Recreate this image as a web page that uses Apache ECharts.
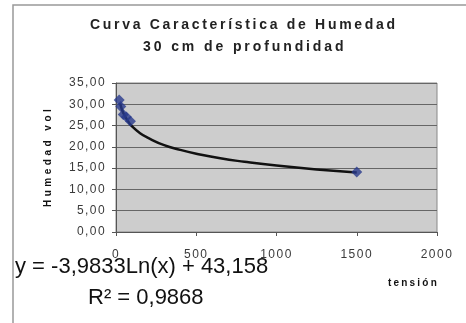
<!DOCTYPE html>
<html>
<head>
<meta charset="utf-8">
<script src="https://cdn.jsdelivr.net/npm/echarts@6/dist/echarts.min.js"></script>
<style>html,body{margin:0;padding:0;background:#fff}#c{width:466px;height:323px}</style>
</head>
<body>
<div id="c"></div>
<script>
// Measured points (tensión, humedad vol)
const tension = [20, 30, 45, 65, 90, 1500];
const humedad = [31.0, 29.5, 27.6, 27.0, 26.0, 14.1];
// Trend line
const trendX = [25, 35, 50, 75, 100, 150, 200, 300, 400, 500, 650, 800, 1000, 1250, 1500];
const trendY = [30.3, 29.0, 27.6, 26.0, 24.8, 23.2, 22.1, 20.4, 19.3, 18.4, 17.3, 16.5, 15.6, 14.7, 14.0];
const yTicks = [0, 5, 10, 15, 20, 25, 30, 35];
const xTicks = [0, 500, 1000, 1500, 2000];
const titleLine1 = 'Curva Característica de Humedad';
const titleLine2 = '30 cm de profundidad';
const yName = 'Humedad vol';
const xName = 'tensión';
const equation = 'y = -3,9833Ln(x) + 43,158';
const r2 = 'R² = 0,9868';

// letter-spacing support: font families tagged "spNN" get NN/10 px spacing
(function () {
  const P = CanvasRenderingContext2D.prototype;
  const orig = P.fillText;
  P.fillText = function (t, x, y, mw) {
    const f = this.font || '';
    const m = /sp(\d+)/.exec(f);
    const ls = m ? (parseInt(m[1], 10) / 10) + 'px' : '0px';
    if ('letterSpacing' in this) {
      this.letterSpacing = ls;
      this.font = f;
    }
    return mw === undefined ? orig.call(this, t, x, y) : orig.call(this, t, x, y, mw);
  };
})();

const chart = echarts.init(document.getElementById('c'), null, {renderer: 'canvas'});
const AR = 'Liberation Sans';
chart.setOption({
  animation: false,
  backgroundColor: '#fff',
  grid: {left: 116, right: 29, top: 83, bottom: 91, show: true, backgroundColor: '#cdcdcd', borderColor: '#888', borderWidth: 1},
  xAxis: {
    type: 'value', min: 0, max: 2000, interval: 500,
    axisLine: {show: true, lineStyle: {color: '#555'}},
    axisTick: {show: true, length: 4, lineStyle: {color: '#555'}},
    splitLine: {show: false},
    axisLabel: {fontFamily: AR + ', sp15', fontSize: 12, color: '#3a3a3a', margin: 17,
      formatter: v => xTicks.includes(v) ? String(v) : ''}
  },
  yAxis: {
    type: 'value', min: 0, max: 35, interval: 5,
    axisLine: {show: true, lineStyle: {color: '#555'}},
    axisTick: {show: true, length: 4, lineStyle: {color: '#555'}},
    splitLine: {show: true, lineStyle: {color: '#666', width: 1}},
    axisLabel: {fontFamily: AR + ', sp14', fontSize: 12, color: '#3a3a3a', margin: 10,
      formatter: v => yTicks.includes(v) ? v.toFixed(2).replace('.', ',') : ''}
  },
  series: [
    {
      type: 'line', data: trendX.map((x, i) => [x, trendY[i]]),
      smooth: true, showSymbol: false,
      lineStyle: {color: '#111', width: 2.5}, z: 2
    },
    {
      type: 'scatter', data: tension.map((x, i) => [x, humedad[i]]),
      symbol: 'diamond', symbolSize: 11,
      itemStyle: {color: '#283a8c'}, z: 3
    }
  ],
  graphic: [
    {type: 'rect', shape: {x: 13, y: 5, width: 470, height: 330}, style: {fill: 'none', stroke: '#999', lineWidth: 1.5}, silent: true},
    {type: 'text', x: 90, y: 25, style: {text: titleLine1, font: 'bold 14px "Liberation Sans", sp27', fill: '#222', textAlign: 'left', textVerticalAlign: 'middle'}},
    {type: 'text', x: 143, y: 47, style: {text: titleLine2, font: 'bold 14px "Liberation Sans", sp29', fill: '#222', textAlign: 'left', textVerticalAlign: 'middle'}},
    {type: 'text', x: 48, y: 207, rotation: Math.PI / 2, style: {text: yName, font: 'bold 10px "Liberation Sans", sp35', fill: '#111', textAlign: 'left', textVerticalAlign: 'middle'}},
    {type: 'text', x: 388, y: 283, style: {text: xName, font: 'bold 10px "Liberation Sans", sp22', fill: '#111', textAlign: 'left', textVerticalAlign: 'middle'}},
    {type: 'text', x: 15, y: 267, style: {text: equation, font: '22px "Liberation Sans"', fill: '#111', textAlign: 'left', textVerticalAlign: 'middle'}},
    {type: 'text', x: 88, y: 298, style: {text: r2, font: '22px "Liberation Sans"', fill: '#111', textAlign: 'left', textVerticalAlign: 'middle'}}
  ]
});
</script>
</body>
</html>
